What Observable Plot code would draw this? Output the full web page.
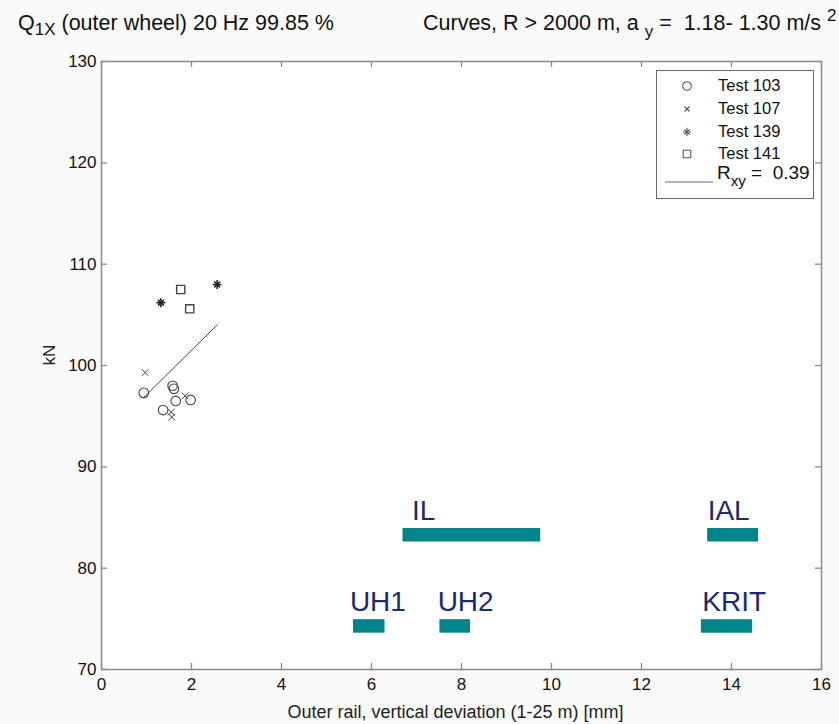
<!DOCTYPE html>
<html><head><meta charset="utf-8">
<script src="https://cdn.jsdelivr.net/npm/d3@7"></script>
<script src="https://cdn.jsdelivr.net/npm/@observablehq/plot@0.6"></script>
<style>
body{margin:0;background:#fafafa;font-family:"Liberation Sans",Arial,Helvetica,sans-serif;}
#wrap{position:relative;width:839px;height:724px;overflow:hidden;}
#title{position:relative;height:40px;font-size:21.5px;color:#111;}
#title span.t{position:absolute;top:11px;white-space:nowrap;}
#legend{position:absolute;left:656px;top:70px;width:156px;height:127px;border:1px solid #666;background:#fff;font-size:16.5px;color:#111;}
#legend .row{position:absolute;left:0;height:20px;width:156px;}
#legend svg{position:absolute;}
#legend .lab{position:absolute;left:61px;top:0px;white-space:nowrap;}
</style></head><body>
<div id="wrap">
<div id="title">
 <span class="t" style="left:18px">Q<span style="font-size:17px;position:relative;top:5px">1X</span> (outer wheel) 20 Hz 99.85 %</span>
 <span class="t" style="left:423px">Curves, R &gt; 2000 m, a <span style="font-size:17px;position:relative;top:7px">y</span> =&nbsp; 1.18- 1.30 m/s <span style="font-size:17px;position:relative;top:-9px">2</span></span>
</div>
<div id="chart"></div>
<div id="legend"></div>
</div>
<script>
// ---- data ----
const test103X = [0.94, 1.37, 1.58, 1.61, 1.65, 1.98];
const test103Y = [97.3, 95.6, 98.0, 97.7, 96.5, 96.6];
const test107X = [0.97, 1.55, 1.56, 1.86];
const test107Y = [99.3, 95.4, 94.9, 97.0];
const test139X = [1.32, 2.57];
const test139Y = [106.2, 108.0];
const test141X = [1.76, 1.96];
const test141Y = [107.5, 105.6];
const fitX = [0.93, 2.57];
const fitY = [96.8, 104.0];
const rxy = 0.39;
const limitNames = ["IL", "IAL", "UH1", "UH2", "KRIT"];
const limitX1 = [6.7, 13.47, 5.6, 7.52, 13.33];
const limitX2 = [9.76, 14.6, 6.3, 8.2, 14.47];
const limitY = [83.3, 83.3, 74.3, 74.3, 74.3];
const limitLabelX = [6.9, 13.47, 5.52, 7.47, 13.35];
const xTicks = [0, 2, 4, 6, 8, 10, 12, 14, 16];
const yTicks = [70, 80, 90, 100, 110, 120, 130];
const seriesNames = ["Test 103", "Test 107", "Test 139", "Test 141"];
const seriesSymbols = ["circle", "times", "asterisk", "square"];
const xLabel = "Outer rail, vertical deviation (1-25 m) [mm]";
const yLabel = "kN";

// ---- build tables ----
const seriesXs = [test103X, test107X, test139X, test141X];
const seriesYs = [test103Y, test107Y, test139Y, test141Y];
const points = [];
seriesNames.forEach((s, i) => seriesXs[i].forEach((x, j) => points.push({series: s, symbol: seriesSymbols[i], x, y: seriesYs[i][j]})));
const fit = fitX.map((x, i) => ({x, y: fitY[i]}));
const limits = limitNames.map((n, i) => ({name: n, x1: limitX1[i], x2: limitX2[i], y: limitY[i], lx: limitLabelX[i]}));
const of = sym => points.filter(d => d.symbol === sym);

const W = 839, H = 684, mL = 101, mR = 18, mT = 21, mB = 55;
const fw = W - mL - mR, fh = H - mT - mB;
const axisColor = "#8a8a8a";
const markColor = "#444";
const teal = "#00868a";
const navy = "#1b2b6b";

const chart = Plot.plot({
  width: W, height: H,
  marginLeft: mL, marginRight: mR, marginTop: mT, marginBottom: mB,
  style: {background: "transparent", fontFamily: "'Liberation Sans', Arial, sans-serif", color: "#111"},
  x: {domain: [0, 16]},
  y: {domain: [70, 130]},
  marks: [
    Plot.frame({fill: "#fff"}),
    // inward ticks (bottom, top, left, right)
    Plot.tickX(xTicks, {x: d => d, insetTop: fh - 6, stroke: axisColor, strokeWidth: 1.3}),
    Plot.tickX(xTicks, {x: d => d, insetBottom: fh - 6, stroke: axisColor, strokeWidth: 1.3}),
    Plot.tickY(yTicks, {y: d => d, insetRight: fw - 6, stroke: axisColor, strokeWidth: 1.3}),
    Plot.tickY(yTicks, {y: d => d, insetLeft: fw - 6, stroke: axisColor, strokeWidth: 1.3}),
    Plot.frame({stroke: axisColor, strokeWidth: 1.5}),
    Plot.axisX(xTicks, {tickSize: 0, tickPadding: 8, fontSize: 17, label: null}),
    Plot.axisY(yTicks, {tickSize: 0, tickPadding: 5, fontSize: 17, label: null}),
    Plot.text([xLabel], {frameAnchor: "bottom", dy: 48, dx: -6, fontSize: 18, fill: "#222"}),
    Plot.text([yLabel], {frameAnchor: "left", dx: -52, rotate: -90, fontSize: 17, fill: "#222"}),
    // limit bars
    Plot.ruleY(limits, {x1: "x1", x2: "x2", y: "y", stroke: teal, strokeWidth: 13.5}),
    Plot.text(limits, {x: "lx", y: "y", text: "name", textAnchor: "start", lineAnchor: "bottom", dy: -15, fontSize: 28, fill: navy}),
    // regression line
    Plot.line(fit, {x: "x", y: "y", stroke: markColor, strokeWidth: 1}),
    // points
    Plot.dot(of("circle"), {x: "x", y: "y", symbol: "circle", r: 4.8, stroke: markColor, strokeWidth: 1.1, fill: "none"}),
    Plot.dot(of("square"), {x: "x", y: "y", symbol: "square", r: 4.6, stroke: markColor, strokeWidth: 1.4, fill: "none"}),
    Plot.dot(of("times"), {x: "x", y: "y", symbol: "times", r: 3.2, stroke: markColor, strokeWidth: 1, fill: "none"}),
    Plot.dot(of("asterisk"), {x: "x", y: "y", symbol: "times", r: 2.8, stroke: "#222", strokeWidth: 1.6, fill: "none"}),
    Plot.dot(of("asterisk"), {x: "x", y: "y", symbol: "plus", r: 3.0, stroke: "#222", strokeWidth: 1.6, fill: "none"})
  ]
});
document.getElementById("chart").appendChild(chart);

// ---- legend ----
const leg = document.getElementById("legend");
const sz = r => r * r * Math.PI;
const legendPaths = {
  circle: [d3.symbol(d3.symbolCircle, sz(4.3))()],
  times: [d3.symbol(d3.symbolTimes, sz(2.4))()],
  asterisk: [d3.symbol(d3.symbolTimes, sz(2.6))(), d3.symbol(d3.symbolPlus, sz(2.8))()],
  square: [d3.symbol(d3.symbolSquare, sz(4.3))()]
};
const rowTops = [5, 28, 51, 73];
seriesNames.forEach((name, i) => {
  const row = document.createElement("div");
  row.className = "row";
  row.style.top = rowTops[i] + "px";
  const paths = legendPaths[seriesSymbols[i]].map(p => `<path d="${p}" fill="none" stroke="#555" stroke-width="1.1"/>`).join("");
  row.innerHTML = `<svg width="16" height="16" viewBox="-8 -8 16 16" style="left:22px;top:2px">${paths}</svg><span class="lab">${name}</span>`;
  leg.appendChild(row);
});
const rrow = document.createElement("div");
rrow.className = "row";
rrow.style.top = "93px";
rrow.innerHTML = `<svg width="50" height="20" style="left:8px;top:3px"><line x1="0" y1="15" x2="48" y2="15" stroke="#666" stroke-width="1"/></svg><span class="lab" style="left:60px;top:-2px;font-size:19px">R<span style="position:relative;top:7px;font-size:15px">xy</span> =&nbsp; ${rxy.toFixed(2)}</span>`;
leg.appendChild(rrow);
</script>
</body></html>
